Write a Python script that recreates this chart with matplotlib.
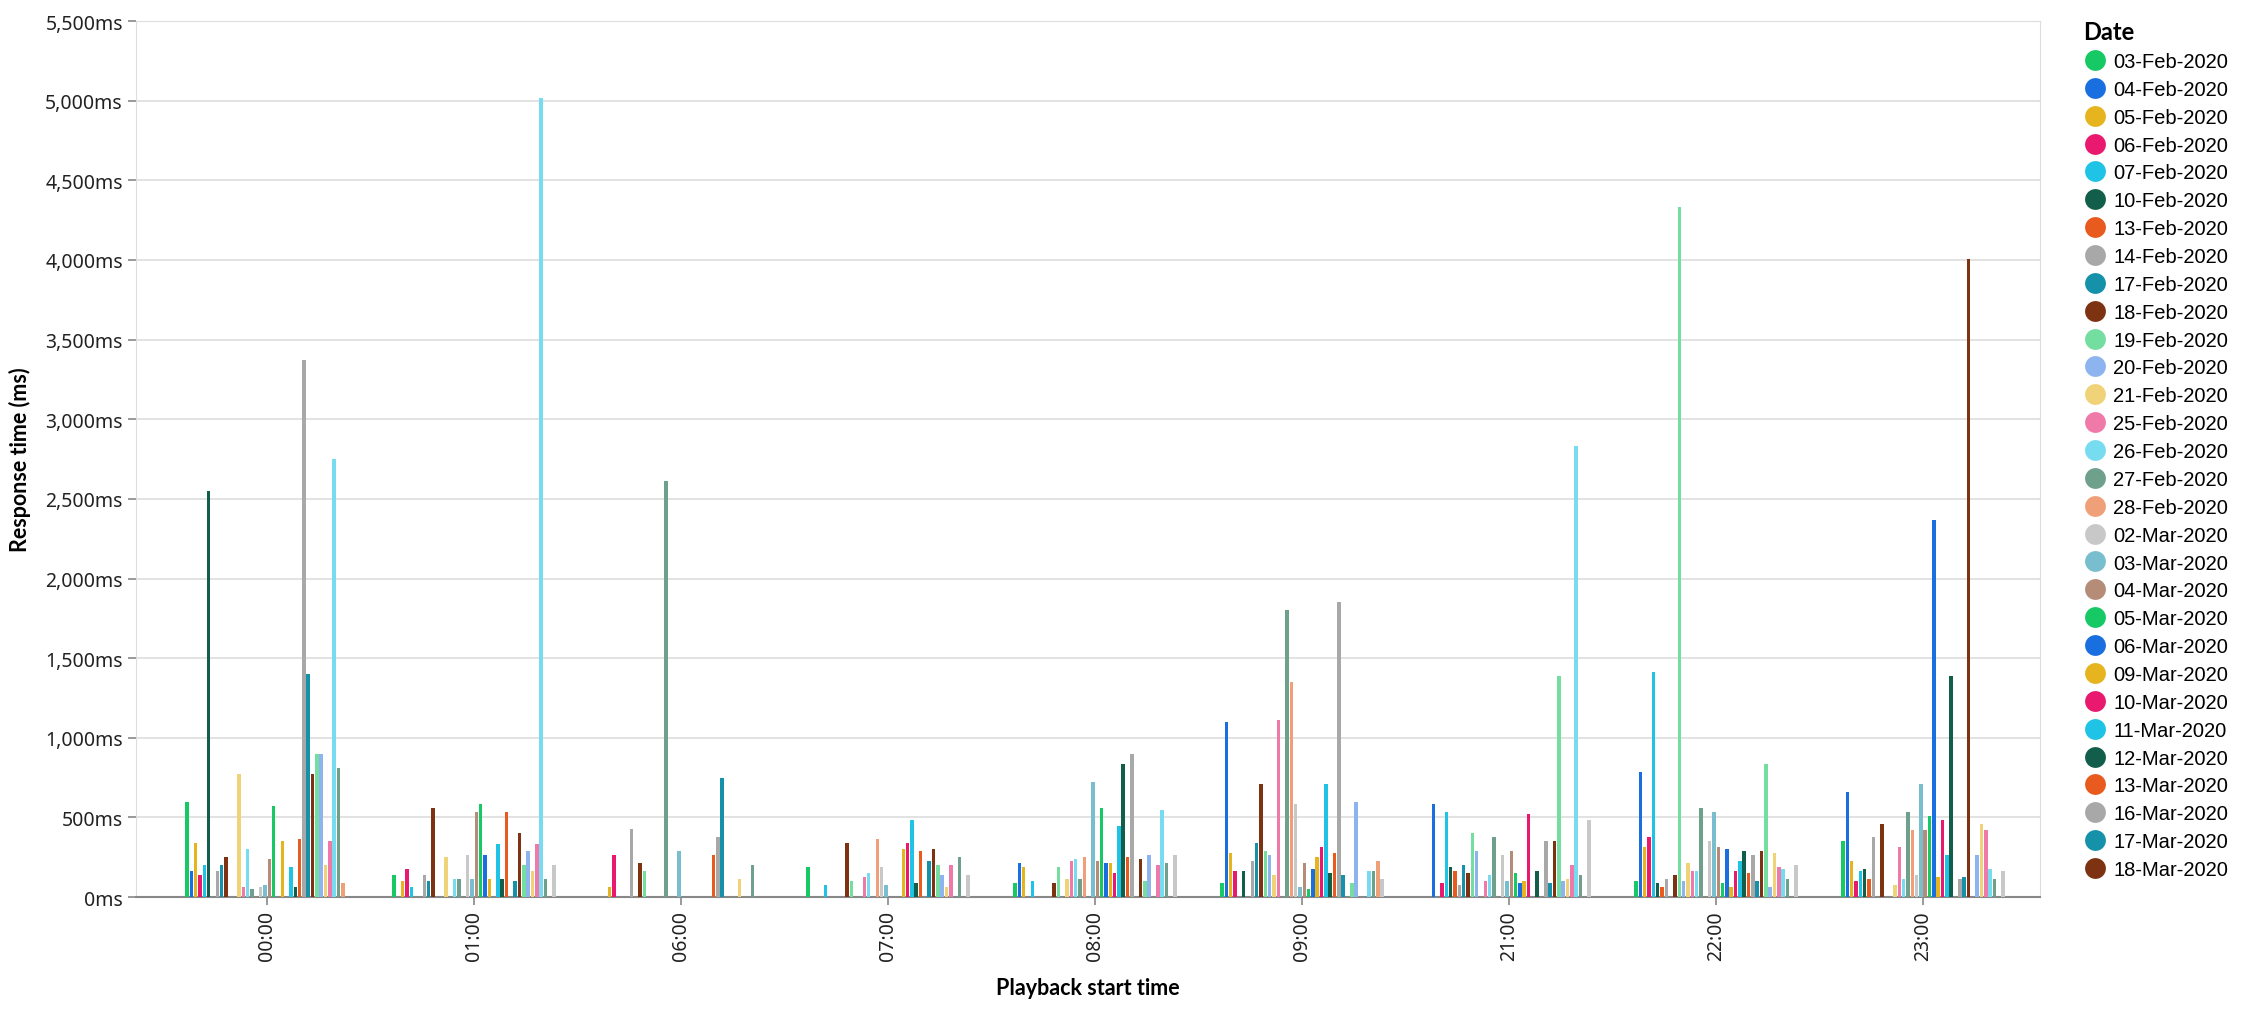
import matplotlib
matplotlib.use('Agg')
import matplotlib.pyplot as plt
from matplotlib.lines import Line2D
from matplotlib.ticker import FuncFormatter
import numpy as np

# 数据
hours = ['00:00', '01:00', '06:00', '07:00', '08:00', '09:00', '21:00', '22:00', '23:00']
dates = ['03-Feb-2020', '04-Feb-2020', '05-Feb-2020', '06-Feb-2020', '07-Feb-2020',
         '10-Feb-2020', '13-Feb-2020', '14-Feb-2020', '17-Feb-2020', '18-Feb-2020',
         '19-Feb-2020', '20-Feb-2020', '21-Feb-2020', '25-Feb-2020', '26-Feb-2020',
         '27-Feb-2020', '28-Feb-2020', '02-Mar-2020', '03-Mar-2020', '04-Mar-2020',
         '05-Mar-2020', '06-Mar-2020', '09-Mar-2020', '10-Mar-2020', '11-Mar-2020',
         '12-Mar-2020', '13-Mar-2020', '16-Mar-2020', '17-Mar-2020', '18-Mar-2020',
         '19-Mar-2020', '20-Mar-2020', '23-Mar-2020', '24-Mar-2020', '25-Mar-2020',
         '26-Mar-2020', '27-Mar-2020', '30-Mar-2020']

h00 = [594, 166, 342, 141, 204, 2550, 0, 166, 204, 254, 0, 0, 771, 65, 304, 52, 0, 65, 78, 241,
       569, 0, 355, 0, 191, 65, 367, 3375, 1400, 771, 897, 897, 204, 355, 2750, 808, 90, 0]
h01 = [141, 0, 103, 179, 65, 0, 0, 141, 103, 556, 0, 0, 254, 0, 115, 115, 0, 267, 115, 531,
       582, 267, 115, 0, 330, 115, 531, 0, 103, 405, 204, 292, 166, 330, 5015, 115, 0, 204]
h06 = [0, 0, 65, 267, 0, 0, 0, 430, 0, 216, 166, 0, 0, 0, 0, 2615, 0, 0, 292, 0,
       0, 0, 0, 0, 0, 0, 267, 380, 745, 0, 0, 0, 115, 0, 0, 204, 0, 0]
h07 = [191, 0, 0, 0, 78, 0, 0, 0, 0, 342, 103, 0, 0, 128, 153, 0, 367, 191, 78, 0,
       0, 0, 304, 342, 481, 90, 292, 0, 229, 304, 204, 141, 65, 204, 0, 254, 0, 141]
h08 = [90, 216, 191, 0, 103, 0, 0, 0, 0, 90, 191, 0, 115, 229, 241, 115, 254, 0, 720, 229,
       556, 216, 216, 153, 443, 834, 254, 897, 0, 241, 103, 267, 0, 204, 544, 216, 0, 267]
h09 = [90, 1098, 279, 166, 0, 166, 0, 229, 342, 708, 292, 267, 141, 1111, 0, 1804, 1350, 582, 65, 216,
       52, 178, 254, 317, 708, 153, 279, 1854, 141, 0, 90, 594, 0, 0, 166, 166, 229, 115]
h21 = [0, 582, 0, 90, 531, 191, 166, 78, 204, 153, 405, 292, 0, 103, 141, 380, 0, 267, 103, 292,
       153, 90, 103, 519, 0, 166, 0, 355, 90, 355, 1388, 103, 115, 204, 2830, 141, 0, 481]
h22 = [103, 783, 317, 378, 1413, 90, 65, 115, 0, 141, 4335, 103, 216, 166, 166, 556, 0, 355, 531, 317,
       90, 304, 65, 166, 229, 292, 153, 267, 103, 292, 834, 65, 279, 191, 179, 115, 0, 204]
h23 = [355, 657, 229, 103, 166, 179, 115, 380, 0, 456, 0, 0, 78, 317, 115, 531, 418, 141, 708, 418,
       506, 2365, 128, 481, 267, 1388, 0, 115, 128, 4005, 0, 267, 456, 418, 179, 115, 0, 166]

values = [h00, h01, h06, h07, h08, h09, h21, h22, h23]

palette = ['#17c964', '#1a6fe0', '#e6b41e', '#e8196e', '#1ec3e6', '#135e4b', '#e85a1e',
           '#a8a8a8', '#1591aa', '#7d3211', '#74dea0', '#8eb4f0', '#f0d278', '#ef7aaa',
           '#78dcf0', '#6fa08c', '#f0a078', '#c8c8c8', '#78bece', '#b48c78']

# 画图
fig = plt.figure(figsize=(22.42, 10.12), dpi=100)
ax = fig.add_axes([0.0607, 0.1126, 0.8493, 0.8656])

n = len(dates)
slot = 0.0209
x = np.arange(len(hours))
for j in range(n):
    ys = [values[i][j] for i in range(len(hours))]
    ax.bar(x + (j - (n - 1) / 2) * slot, ys, width=slot * 0.8,
           color=palette[j % len(palette)], zorder=3)

ax.set_xlim(-0.633, 8.566)
ax.set_ylim(0, 5500)
ax.set_yticks(np.arange(0, 5501, 500))
ax.yaxis.set_major_formatter(FuncFormatter(lambda v, p: '{:,.0f}ms'.format(v)))
ax.set_xticks(x)
ax.set_xticklabels(hours, rotation=90, fontsize=14, family='Noto Sans')
for t in ax.get_yticklabels():
    t.set_fontsize(14)
    t.set_family('Noto Sans')
ax.grid(axis='y', color='#dddddd', lw=1.2, zorder=0)
ax.tick_params(axis='both', colors='#888888', labelcolor='#222222', length=6, width=1.2)
for s in ['top', 'right', 'left']:
    ax.spines[s].set_color('#dddddd')
ax.spines['bottom'].set_color('#888888')
ax.spines['bottom'].set_linewidth(1.5)

ax.set_xlabel('Playback start time', fontsize=15.5, fontweight='bold', family='Lato', labelpad=12)
ax.set_ylabel('Response time (ms)', fontsize=15.5, fontweight='bold', family='Lato', labelpad=10)

handles = [Line2D([0], [0], marker='o', ls='', markersize=15, markeredgewidth=0,
                  color=palette[j % len(palette)]) for j in range(30)]
leg = fig.legend(handles, dates[:30], loc='upper left', bbox_to_anchor=(0.921, 0.997),
                 frameon=False, title='Date', handletextpad=0.3, labelspacing=0.44,
                 handlelength=1.2, prop={'family': 'Liberation Sans', 'size': 14.5},
                 title_fontproperties={'family': 'Lato', 'weight': 'bold', 'size': 17})
leg._legend_box.align = 'left'

plt.savefig('out.png', dpi=100)
